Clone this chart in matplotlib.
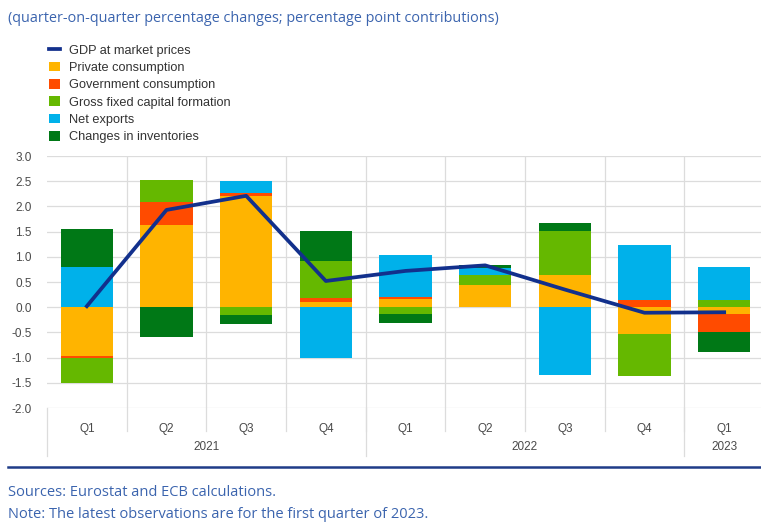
import numpy as np
import matplotlib
matplotlib.use("Agg")
import matplotlib.pyplot as plt
from matplotlib.lines import Line2D
from matplotlib.patches import Patch
import matplotlib.transforms as mtransforms

# === Dati (contributi in punti percentuali) ===
quarters = ["Q1", "Q2", "Q3", "Q4", "Q1", "Q2", "Q3", "Q4", "Q1"]
years = ["2021", "2022", "2023"]
year_centers = [1.5, 5.5, 8.0]

private_cons = [-0.97, 1.64, 2.20, 0.10, 0.16, 0.44, 0.64, -0.54, -0.14]
gov_cons = [-0.03, 0.45, 0.07, 0.09, 0.04, 0.00, 0.00, 0.15, -0.35]
gfcf = [-0.50, 0.43, -0.16, 0.72, -0.13, 0.20, 0.88, -0.83, 0.14]
net_exports = [0.80, 0.00, 0.24, -1.00, 0.83, 0.14, -1.34, 1.08, 0.66]
inventories = [0.75, -0.60, -0.17, 0.61, -0.18, 0.05, 0.16, 0.00, -0.40]
gdp = [0.02, 1.93, 2.21, 0.52, 0.72, 0.83, 0.35, -0.11, -0.10]

components = [
    ("Private consumption", private_cons, "#FFB400"),
    ("Government consumption", gov_cons, "#FF4B00"),
    ("Gross fixed capital formation", gfcf, "#65B800"),
    ("Net exports", net_exports, "#00B1EA"),
    ("Changes in inventories", inventories, "#007816"),
]
col_gdp = "#12308C"
col_text_blue = "#3B64AE"
col_grid = "#DCDCDC"

plt.rcParams["font.family"] = ["Liberation Sans", "DejaVu Sans"]
plt.rcParams["axes.unicode_minus"] = False

fig = plt.figure(figsize=(7.61, 5.22), dpi=100)
W, H = 761, 522
ax = fig.add_axes([47 / W, 1 - 408 / H, (764 - 47) / W, 252 / H])

x = np.arange(len(quarters))
width = 0.66

# barre impilate: positivi e negativi separati
pos_base = np.zeros(len(x))
neg_base = np.zeros(len(x))
for name, vals, col in components:
    v = np.array(vals)
    pos = np.where(v > 0, v, 0)
    neg = np.where(v < 0, v, 0)
    ax.bar(x, pos, width, bottom=pos_base, color=col, zorder=2)
    ax.bar(x, neg, width, bottom=neg_base, color=col, zorder=2)
    pos_base += pos
    neg_base += neg

ax.plot(x, gdp, color=col_gdp, lw=2.7, zorder=3)

ax.set_xlim(-0.5, 8.5)
ax.set_ylim(-2.0, 3.0)
yt = np.arange(-2.0, 3.01, 0.5)
ax.set_yticks(yt)
ax.set_yticklabels([f"{v:.1f}" for v in yt])
ax.set_xticks(x)
ax.set_xticklabels(quarters)
ax.set_xticks(x[:-1] + 0.5, minor=True)
ax.tick_params(axis="both", which="both", length=0, labelsize=8.5, colors="#4a4a4a")
ax.tick_params(axis="x", pad=11)
ax.tick_params(axis="y", pad=11)
ax.grid(axis="y", color=col_grid, lw=0.9, zorder=0)
ax.grid(axis="x", which="minor", color=col_grid, lw=0.9, zorder=0)
ax.grid(False, axis="x", which="major")
for s in ax.spines.values():
    s.set_visible(False)

# separatori sotto l'asse
trans = mtransforms.blended_transform_factory(ax.transData, ax.transAxes)
for b in x[:-1] + 0.5:
    ax.plot([b, b], [0, -0.09], color=col_grid, lw=0.9, transform=trans, clip_on=False)
for b in [-0.5, 3.5, 7.5]:
    ax.plot([b, b], [0, -0.19], color=col_grid, lw=0.9, transform=trans, clip_on=False)
for xc, yr in zip(year_centers, years):
    ax.text(xc, -0.155, yr, transform=trans, ha="center", va="center",
            fontsize=8.5, color="#4a4a4a")

# legenda
handles = [Line2D([], [], color=col_gdp, lw=2.7)]
labels = ["GDP at market prices"]
for name, vals, col in components:
    handles.append(Patch(facecolor=col, edgecolor="none"))
    labels.append(name)
fig.legend(handles, labels, loc="upper left", bbox_to_anchor=(43 / W, 1 - 38 / H),
           frameon=False, fontsize=9.2, handlelength=0.8, handleheight=0.8,
           handletextpad=0.75, labelspacing=0.39, borderpad=0, labelcolor="#333333")

fig.text(8 / W, 1 - 18 / H,
         "(quarter-on-quarter percentage changes; percentage point contributions)",
         family="Open Sans", fontsize=10.35, color=col_text_blue, va="center")
fig.add_artist(Line2D([8 / W, 1], [1 - 467 / H] * 2, color="#1F3C88", lw=1.8))
fig.text(8 / W, 1 - 492 / H, "Sources: Eurostat and ECB calculations.",
         family="Open Sans", fontsize=10.55, color=col_text_blue, va="center")
fig.text(8 / W, 1 - 515 / H, "Note: The latest observations are for the first quarter of 2023.",
         family="Open Sans", fontsize=10.55, color=col_text_blue, va="center")

plt.savefig("out.png", dpi=100)
